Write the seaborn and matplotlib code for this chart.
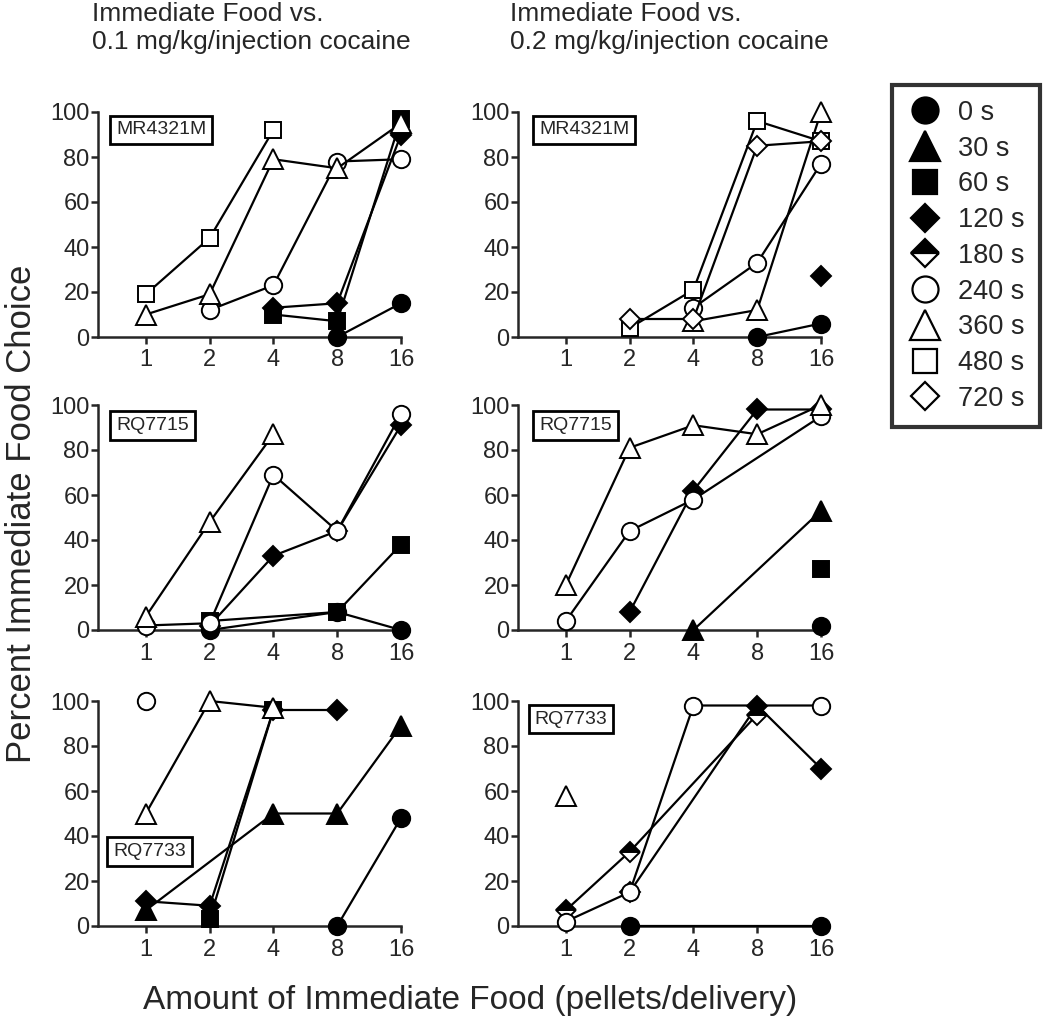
import numpy as np
import pandas as pd
import matplotlib
matplotlib.use("Agg")
import matplotlib.pyplot as plt
from matplotlib.lines import Line2D
import seaborn as sns

nan = np.nan

# %% data (percent immediate food choice), x = pellets/delivery
amounts = [1, 2, 4, 8, 16]
delays = ["0 s", "30 s", "60 s", "120 s", "180 s", "240 s", "360 s", "480 s", "720 s"]
subjects = ["MR4321M", "RQ7715", "RQ7733"]
doses = ["0.1", "0.2"]

mr_low = {
    "0 s":   [nan, nan, nan, 0, 15],
    "60 s":  [nan, nan, 10, 7, 97],
    "120 s": [nan, nan, 13, 15, 90],
    "240 s": [nan, 12, 23, 78, 79],
    "360 s": [10, 19, 79, 75, 95],
    "480 s": [19, 44, 92, nan, nan],
}
mr_high = {
    "0 s":   [nan, nan, nan, 0, 6],
    "120 s": [nan, nan, nan, nan, 27],
    "240 s": [nan, nan, 13, 33, 77],
    "360 s": [nan, nan, 7, 12, 100],
    "480 s": [nan, 4, 21, 96, 87],
    "720 s": [nan, 8, 8, 85, 87],
}
rq15_low = {
    "0 s":   [nan, 0, nan, 8, 0],
    "60 s":  [nan, 4, nan, 8, 38],
    "120 s": [nan, 2, 33, 44, 91],
    "240 s": [2, 3, 69, 44, 96],
    "360 s": [6, 48, 87, nan, nan],
}
rq15_high = {
    "0 s":   [nan, nan, nan, nan, 2],
    "30 s":  [nan, nan, 0, nan, 53],
    "60 s":  [nan, nan, nan, nan, 27],
    "120 s": [nan, 8, 62, 98, 98],
    "240 s": [4, 44, 58, nan, 95],
    "360 s": [20, 81, 91, 87, 100],
}
rq33_low = {
    "0 s":   [nan, nan, nan, 0, 48],
    "30 s":  [7, nan, 50, 50, 89],
    "60 s":  [nan, 3, 96, nan, nan],
    "120 s": [11, 9, 96, 96, nan],
    "240 s": [100, nan, nan, nan, nan],
    "360 s": [50, 100, 97, nan, nan],
}
rq33_high = {
    "0 s":   [nan, 0, nan, nan, 0],
    "120 s": [nan, 15, nan, 98, 70],
    "180 s": [7, 33, nan, 94, nan],
    "240 s": [2, 15, 98, nan, 98],
    "360 s": [58, nan, nan, nan, nan],
}

panel_data = [[mr_low, mr_high], [rq15_low, rq15_high], [rq33_low, rq33_high]]

# %% marker styles (GraphPad look)
marker_style = {
    "0 s":   dict(marker="o", markersize=12.5, markerfacecolor="black"),
    "30 s":  dict(marker="^", markersize=14.5, markerfacecolor="black"),
    "60 s":  dict(marker="s", markersize=11.5, markerfacecolor="black"),
    "120 s": dict(marker="D", markersize=9.8, markerfacecolor="black"),
    "180 s": dict(marker="D", markersize=9.8, markerfacecolor="black",
                  fillstyle="top", markerfacecoloralt="white"),
    "240 s": dict(marker="o", markersize=12.5, markerfacecolor="white"),
    "360 s": dict(marker="^", markersize=14.5, markerfacecolor="white"),
    "480 s": dict(marker="s", markersize=11.5, markerfacecolor="white"),
    "720 s": dict(marker="D", markersize=9.8, markerfacecolor="white"),
}

sns.set_style("ticks")
plt.rcParams["font.family"] = ["Liberation Sans", "DejaVu Sans"]

W, H = 1050, 1031
fig = plt.figure(figsize=(W / 100, H / 100), dpi=100)

col_left = [98, 518]
row_top = [112, 405, 701]
ax_w, ax_h = 303, 225
box_pos = [[(0.06, 0.92), (0.07, 0.92)],
           [(0.06, 0.91), (0.07, 0.91)],
           [(0.05, 0.33), (0.055, 0.92)]]

for r in range(3):
    for c in range(2):
        ax = fig.add_axes([col_left[c] / W, 1 - (row_top[r] + ax_h) / H, ax_w / W, ax_h / H])
        ax.set_xscale("log", base=2)
        data = panel_data[r][c]
        for i, d in enumerate(delays):
            if d not in data:
                continue
            df = pd.DataFrame({"amount": amounts, "pct": data[d]}).dropna()
            sns.lineplot(data=df, x="amount", y="pct", ax=ax, color="black",
                         linewidth=1.6, estimator=None, sort=False, legend=False,
                         markeredgecolor="black", markeredgewidth=1.4,
                         clip_on=False, zorder=3 + i, **marker_style[d])
        ax.set_xlim(2 ** -0.75, 16)
        ax.set_ylim(0, 100)
        ax.set_xticks(amounts)
        ax.set_xticklabels([str(a) for a in amounts])
        ax.minorticks_off()
        ax.set_yticks([0, 20, 40, 60, 80, 100])
        ax.set_xlabel("")
        ax.set_ylabel("")
        sns.despine(ax=ax)
        for s in ["left", "bottom"]:
            ax.spines[s].set_linewidth(1.8)
        ax.tick_params(axis="both", labelsize=17, width=1.8, length=5)
        ax.tick_params(axis="y", pad=1)
        ax.tick_params(axis="x", pad=4)
        bx, by = box_pos[r][c]
        ax.text(bx, by, subjects[r], transform=ax.transAxes, fontsize=14,
                ha="left", va="center", zorder=20,
                bbox=dict(boxstyle="square,pad=0.3", fc="white", ec="black", lw=2))

# column titles
for c in range(2):
    fig.text([92, 510][c] / W, 1 - 2 / H,
             "Immediate Food vs.\n" + doses[c] + " mg/kg/injection cocaine",
             fontsize=19, ha="left", va="top")

fig.text(22 / W, 1 - 514 / H, "Percent Immediate Food Choice", rotation=90,
         fontsize=25, ha="center", va="center")
fig.text(470 / W, 1 - 1000 / H, "Amount of Immediate Food (pellets/delivery)",
         fontsize=24, ha="center", va="center")

# legend
handles = []
for d in delays:
    st = dict(marker_style[d])
    st["markersize"] = st["markersize"] * 1.5
    handles.append(Line2D([], [], linestyle="none", markeredgecolor="black",
                          markeredgewidth=1.6, **st))
leg = fig.legend(handles, delays, loc="upper left",
                 bbox_to_anchor=(892 / W, 1 - 85 / H), fontsize=19.5,
                 frameon=True, fancybox=False, edgecolor="black",
                 labelspacing=0.36, handlelength=1.3, handletextpad=0.6,
                 borderpad=0.55, borderaxespad=0)
leg.get_frame().set_linewidth(3)

fig.savefig("out.png", dpi=100)
